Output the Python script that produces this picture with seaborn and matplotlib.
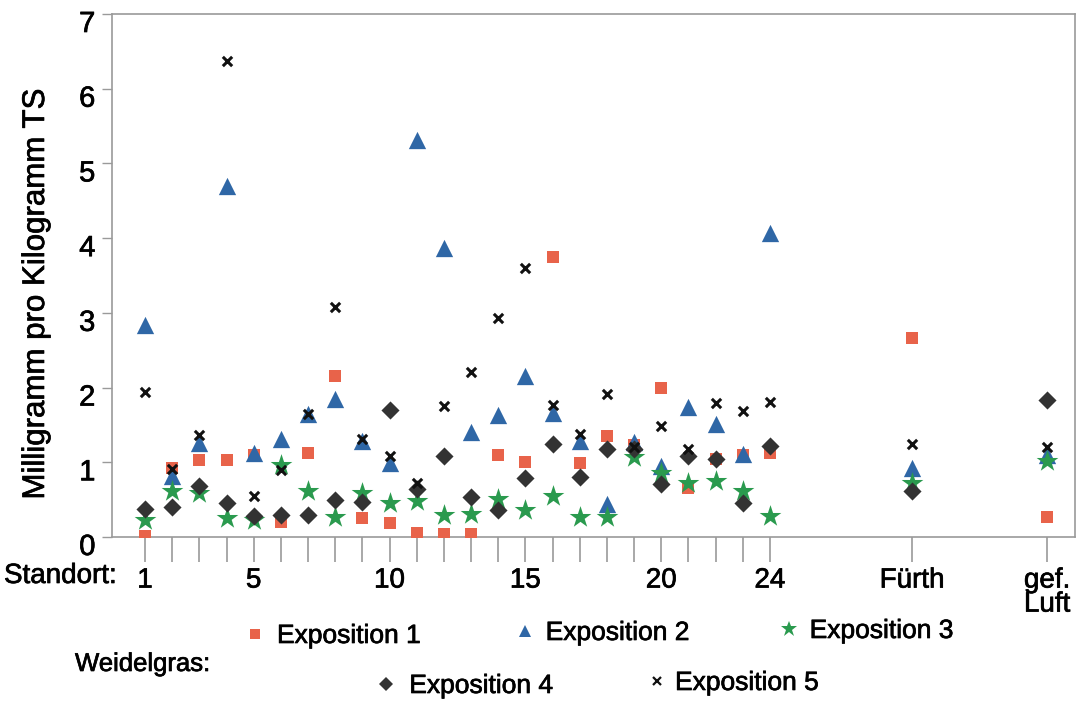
import matplotlib
matplotlib.use("Agg")
import matplotlib.pyplot as plt
from matplotlib.lines import Line2D
from matplotlib.transforms import ScaledTranslation
import matplotlib.patheffects as pe
import seaborn as sns
import pandas as pd
import numpy as np

# ---------------- data ----------------
stations = [str(i) for i in range(1, 25)] + ["Fürth", "gef. Luft"]
tick_labels = ["1", "", "", "", "5", "", "", "", "", "10", "", "", "", "", "15",
               "", "", "", "", "20", "", "", "", "24", "Fürth", "gef.\nLuft"]
series_names = ["Exposition 1", "Exposition 2", "Exposition 3", "Exposition 4", "Exposition 5"]

exp1 = [0.02, 0.93, 1.03, 1.03, 1.10, 0.20, 1.13, 2.16, 0.26, 0.19, 0.05, 0.04, 0.04, 1.10,
        1.01, 3.75, 0.99, 1.35, 1.23, 1.99, 0.66, 1.05, 1.10, 1.13, 2.66, 0.27]
exp2 = [2.84, 0.82, 1.26, 4.70, 1.12, 1.31, 1.65, 1.85, 1.29, 0.99, 5.32, 3.87, 1.41, 1.63,
        2.16, 1.66, 1.29, 0.44, 1.27, 0.95, 1.74, 1.51, 1.11, 4.07, 0.92, 1.10]
exp3 = [0.23, 0.61, 0.59, 0.25, 0.23, 0.96, 0.61, 0.27, 0.59, 0.46, 0.48, 0.29, 0.31, 0.51,
        0.36, 0.55, 0.27, 0.27, 1.07, 0.86, 0.72, 0.75, 0.61, 0.28, 0.72, 1.02]
exp4 = [0.37, 0.40, 0.68, 0.46, 0.28, 0.30, 0.29, 0.50, 0.47, 1.70, 0.64, 1.09, 0.54, 0.36,
        0.79, 1.25, 0.80, 1.18, 1.18, 0.71, 1.08, 1.05, 0.46, 1.22, 0.62, 1.83]
exp5 = [1.94, 0.91, 1.36, 6.37, 0.55, 0.90, 1.64, 3.08, 1.31, 1.08, 0.72, 1.76, 2.21, 2.93,
        3.60, 1.77, 1.38, 1.92, 1.20, 1.49, 1.18, 1.79, 1.68, 1.81, 1.24, 1.20]
series_values = [exp1, exp2, exp3, exp4, exp5]

# ---------------- style ----------------
styles = {
    "Exposition 1": dict(marker="s", s=80, color="#E8634A", lw=0),
    "Exposition 2": dict(marker="^", s=155, color="#2F67A6", lw=0),
    "Exposition 3": dict(marker="*", s=270, color="#2A9A4E", lw=0),
    "Exposition 4": dict(marker="D", s=85, color="#333333", lw=0),
    "Exposition 5": dict(marker="x", s=45, color="#111111", lw=2.2),
}
legend_place = {  # (left px, center y px, handletextpad, markersize)
    "Exposition 1": (244, 636, 0.45, 7),
    "Exposition 2": (514, 633, 0.4, 9),
    "Exposition 3": (778, 631, 0.4, 12),
    "Exposition 4": (375, 686, 0.5, 7),
    "Exposition 5": (646, 683, 0.3, 6),
}

sns.set_theme(style="white")
plt.rcParams["font.family"] = ["Liberation Sans", "DejaVu Sans"]
plt.rcParams["text.color"] = "black"
stroke = [pe.withStroke(linewidth=0.5, foreground="black")]

W, H = 1080, 708
fig = plt.figure(figsize=(W / 100, H / 100), dpi=100)
ax = fig.add_axes([112 / W, 1 - 537 / H, (1075 - 112) / W, (537 - 14) / H])

xpos = np.r_[np.arange(1, 25), 29.23, 34.2]

for name, vals in zip(series_names, series_values):
    st = styles[name]
    df = pd.DataFrame({"Standort": xpos, "Wert": vals})
    if st["marker"] == "x":
        sns.scatterplot(data=df, x="Standort", y="Wert", marker="x", s=st["s"],
                        color=st["color"], linewidth=st["lw"], ax=ax, legend=False,
                        zorder=3)
    else:
        sns.scatterplot(data=df, x="Standort", y="Wert", marker=st["marker"], s=st["s"],
                        color=st["color"], edgecolor=st["color"], linewidth=0,
                        ax=ax, legend=False, zorder=3)

ax.set_xlim(-0.215, 35.23)
ax.set_ylim(0, 7)
ax.set_yticks(range(0, 8))
ax.set_xticks(xpos)
ax.set_xticklabels(tick_labels, linespacing=0.9)
ax.set_xlabel("")
ax.set_ylabel("")
for sp in ax.spines.values():
    sp.set_visible(True)
    sp.set_color("#9a9a9a")
    sp.set_linewidth(1.2)
ax.tick_params(axis="y", direction="out", length=7, width=1, color="#9a9a9a",
               labelsize=21, pad=5, left=True, labelcolor="black")
ax.tick_params(axis="x", direction="out", length=18, width=1.2, color="#9a9a9a",
               labelsize=20, pad=4, bottom=True, labelcolor="black")
ax.set_facecolor("white")

# scanned original: y labels sit slightly below their tick marks
shift = ScaledTranslation(0, -7 / 100, fig.dpi_scale_trans)
for lab in ax.get_yticklabels():
    lab.set_transform(lab.get_transform() + shift)
    lab.set_path_effects(stroke)
for lab in ax.get_xticklabels():
    lab.set_path_effects(stroke)

fig.text(36 / W, 1 - 294 / H, "Milligramm pro Kilogramm TS", rotation=90,
         ha="center", va="center", fontsize=22.5, path_effects=stroke)
fig.text(4 / W, 1 - 563 / H, "Standort:", ha="left", va="top", fontsize=20,
         path_effects=stroke)
fig.text(75 / W, 1 - 664 / H, "Weidelgras:", ha="left", va="center", fontsize=18.5,
         path_effects=stroke)

for name in series_names:
    st = styles[name]
    left, yc, pad, ms = legend_place[name]
    if st["marker"] == "x":
        h = Line2D([], [], linestyle="none", marker="x", color=st["color"],
                   markersize=ms, markeredgewidth=1.6)
    else:
        h = Line2D([], [], linestyle="none", marker=st["marker"], color=st["color"],
                   markersize=ms, markeredgewidth=0)
    leg = fig.legend(handles=[h], labels=[name], loc="center left",
                     bbox_to_anchor=(left / W, 1 - yc / H), frameon=False, fontsize=19,
                     handlelength=0.8, handletextpad=pad, borderpad=0, borderaxespad=0)
    for t in leg.get_texts():
        t.set_path_effects(stroke)

fig.savefig("out.png", dpi=100, facecolor="white")
